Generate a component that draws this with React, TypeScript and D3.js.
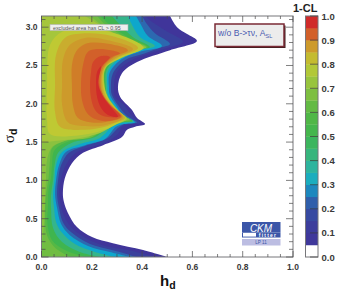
import React from 'react';
import * as d3 from 'd3';

type Pt = [number, number];

const xMajor = [0, 0.2, 0.4, 0.6, 0.8, 1.0];
const yMajor = [0, 0.5, 1.0, 1.5, 2.0, 2.5, 3.0];
const barMajor = [0, 0.1, 0.2, 0.3, 0.4, 0.5, 0.6, 0.7, 0.8, 0.9, 1.0];
const barEdges = [0, 0.05, 0.1, 0.15, 0.2, 0.25, 0.3, 0.35, 0.4, 0.45, 0.5, 0.55, 0.6, 0.65, 0.7, 0.75, 0.8, 0.85, 0.9, 0.95];

const colorStops = [0.05, 0.15, 0.25, 0.3, 0.35, 0.4, 0.5, 0.6, 0.7, 0.75, 0.8, 0.85, 0.875, 0.9, 0.925, 0.95, 0.975];
const colorValues = ['#40359a', '#3a409c', '#2c69b0', '#0ea7cc', '#27b2b0', '#34b58c', '#3fb54f', '#55b845', '#8bc13f', '#a5c63c', '#bfc933', '#c9ad2e', '#cd9a2b', '#d07d28', '#d2602a', '#d2452a', '#d02b2a'];

// right hand edge of the allowed region, bottom to top, one per 1-CL level
const edge05: Pt[] = [[.499, 0], [.404, .09], [.284, .18], [.201, .26], [.141, .39], [.105, .575], [.089, .72], [.085, .835], [.093, 1.03], [.121, 1.225], [.165, 1.36], [.245, 1.46], [.32, 1.565], [.34, 1.66], [.372, 1.7], [.412, 1.735], [.38, 1.815], [.36, 1.92], [.313, 2.09], [.304, 2.22], [.32, 2.4], [.38, 2.545], [.511, 2.7], [.618, 2.82], [.579, 2.91], [.539, 3.0], [.511, 3.146]];
const edge15: Pt[] = [[.451, 0], [.344, .09], [.252, .145], [.173, .25], [.117, .39], [.085, .575], [.074, .72], [.07, .835], [.078, 1.03], [.101, 1.225], [.141, 1.37], [.252, 1.49], [.304, 1.605], [.32, 1.7], [.352, 1.735], [.392, 1.75], [.356, 1.855], [.328, 1.985], [.292, 2.09], [.288, 2.22], [.3, 2.415], [.352, 2.56], [.431, 2.66], [.511, 2.74], [.563, 2.81], [.491, 2.96], [.439, 3.07], [.412, 3.146]];
const edge25: Pt[] = [[.376, 0], [.292, .08], [.193, .17], [.121, .315], [.085, .455], [.07, .64], [.062, .81], [.066, 1.005], [.078, 1.2], [.109, 1.36], [.173, 1.45], [.264, 1.555], [.304, 1.685], [.332, 1.74], [.38, 1.755], [.336, 1.855], [.304, 1.985], [.28, 2.115], [.276, 2.22], [.284, 2.4], [.332, 2.57], [.412, 2.66], [.471, 2.73], [.511, 2.78], [.451, 2.92], [.419, 3.04], [.4, 3.146]];
const edge30: Pt[] = [[.352, 0], [.272, .065], [.185, .145], [.113, .285], [.078, .43], [.062, .64], [.054, .81], [.058, 1.005], [.07, 1.2], [.097, 1.37], [.173, 1.46], [.252, 1.54], [.296, 1.7], [.328, 1.735], [.372, 1.76], [.324, 1.855], [.296, 1.985], [.272, 2.115], [.268, 2.22], [.272, 2.415], [.32, 2.585], [.392, 2.68], [.479, 2.755], [.423, 2.885], [.396, 3.03], [.376, 3.146]];
const edge40: Pt[] = [[.292, 0], [.213, .065], [.133, .17], [.082, .315], [.058, .455], [.05, .64], [.046, .81], [.052, 1.005], [.058, 1.2], [.082, 1.37], [.153, 1.475], [.233, 1.555], [.284, 1.71], [.32, 1.75], [.366, 1.77], [.313, 1.87], [.284, 2.0], [.264, 2.115], [.262, 2.22], [.264, 2.415], [.313, 2.6], [.372, 2.69], [.451, 2.755], [.392, 2.87], [.36, 3.03], [.344, 3.146]];
const edge50: Pt[] = [[.233, 0], [.153, .065], [.082, .195], [.046, .38], [.038, .64], [.038, .81], [.046, 1.005], [.052, 1.2], [.066, 1.36], [.121, 1.49], [.213, 1.565], [.272, 1.71], [.313, 1.755], [.362, 1.775], [.304, 1.88], [.276, 2.01], [.258, 2.115], [.256, 2.22], [.258, 2.43], [.304, 2.61], [.352, 2.7], [.431, 2.74], [.364, 2.87], [.313, 3.03], [.28, 3.146]];
const edge60: Pt[] = [[.173, 0], [.093, .09], [.042, .22], [.024, .42], [.026, .68], [.028, .875], [.038, 1.03], [.042, 1.2], [.052, 1.395], [.113, 1.515], [.213, 1.58], [.264, 1.72], [.304, 1.76], [.356, 1.78], [.296, 1.89], [.27, 2.02], [.254, 2.13], [.252, 2.22], [.254, 2.44], [.296, 2.61], [.344, 2.715], [.423, 2.74], [.344, 2.87], [.272, 3.03], [.233, 3.146]];
const edge65: Pt[] = [[.113, 0], [.054, .12], [.022, .285], [.014, .55], [.018, .81], [.028, 1.03], [.034, 1.265], [.042, 1.42], [.105, 1.53], [.201, 1.565], [.256, 1.735], [.296, 1.775], [.352, 1.79], [.288, 1.92], [.264, 2.05], [.252, 2.155], [.25, 2.245], [.252, 2.455], [.292, 2.61], [.336, 2.715], [.419, 2.74], [.332, 2.87], [.252, 3.04], [.221, 3.146]];
const edge70: Pt[] = [[0, .155], [.01, .42], [.014, .745], [.018, 1.03], [.022, 1.265], [.042, 1.435], [.093, 1.515], [.185, 1.56], [.233, 1.69], [.28, 1.76], [.348, 1.795], [.28, 1.92], [.256, 2.05], [.249, 2.245], [.25, 2.455], [.284, 2.6], [.328, 2.7], [.416, 2.735], [.332, 2.845], [.252, 3.0], [.193, 3.146]];
const edge75: Pt[] = [[0, 1.49], [.054, 1.515], [.153, 1.555], [.233, 1.62], [.288, 1.72], [.34, 1.8], [.304, 1.92], [.264, 2.09], [.249, 2.27], [.256, 2.47], [.32, 2.6], [.408, 2.735], [.332, 2.83], [.252, 2.99], [.173, 3.146]];

// closed rings round the best fit region
const ring80: Pt[] = [[.404, 2.735], [.292, 2.92], [.173, 2.99], [.082, 2.94], [.034, 2.77], [.022, 2.245], [.022, 1.79], [.034, 1.605], [.153, 1.59], [.252, 1.66], [.3, 1.735], [.336, 1.81], [.3, 1.92], [.262, 2.09], [.247, 2.27], [.254, 2.47], [.316, 2.6]];
const ring85: Pt[] = [[.384, 2.73], [.28, 2.885], [.173, 2.92], [.093, 2.86], [.058, 2.64], [.054, 2.245], [.054, 1.89], [.074, 1.7], [.173, 1.66], [.252, 1.7], [.292, 1.75], [.332, 1.815], [.292, 1.945], [.256, 2.1], [.243, 2.27], [.252, 2.47], [.304, 2.6]];
const ring875: Pt[] = [[.364, 2.715], [.264, 2.83], [.173, 2.86], [.113, 2.77], [.085, 2.57], [.082, 2.245], [.082, 1.985], [.105, 1.76], [.173, 1.71], [.252, 1.72], [.324, 1.82], [.284, 1.96], [.25, 2.1], [.239, 2.27], [.249, 2.47], [.296, 2.6]];
const ring90: Pt[] = [[.344, 2.7], [.252, 2.79], [.173, 2.78], [.137, 2.68], [.121, 2.505], [.121, 2.245], [.125, 1.985], [.145, 1.815], [.193, 1.76], [.252, 1.76], [.32, 1.83], [.28, 1.97], [.245, 2.115], [.235, 2.27], [.245, 2.47], [.288, 2.61]];
const ring925: Pt[] = [[.312, 2.66], [.233, 2.715], [.185, 2.68], [.165, 2.505], [.157, 2.245], [.161, 2.05], [.181, 1.88], [.213, 1.8], [.264, 1.775], [.316, 1.835], [.276, 1.97], [.245, 2.115], [.23, 2.27], [.241, 2.48], [.28, 2.61]];
const ring95: Pt[] = [[.272, 2.61], [.233, 2.62], [.205, 2.545], [.197, 2.415], [.193, 2.245], [.197, 2.075], [.213, 1.92], [.245, 1.84], [.313, 1.84], [.272, 1.985], [.241, 2.115], [.227, 2.27], [.237, 2.47]];
const ring975: Pt[] = [[.237, 2.49], [.221, 2.415], [.217, 2.245], [.221, 2.09], [.237, 1.945], [.264, 1.855], [.304, 1.83], [.272, 1.97], [.241, 2.115], [.225, 2.27]];

const edges: [number, Pt[]][] = [[.05, edge05], [.15, edge15], [.25, edge25], [.3, edge30], [.4, edge40], [.5, edge50], [.6, edge60], [.65, edge65], [.7, edge70], [.75, edge75]];
const rings: [number, Pt[]][] = [[.8, ring80], [.85, ring85], [.875, ring875], [.9, ring90], [.925, ring925], [.95, ring95], [.975, ring975]];

const FONT = '"Liberation Sans", Arial, sans-serif';
const yTop = 3.146;

const x = d3.scaleLinear().domain([0, 1]).range([41.5, 293]);
const y = d3.scaleLinear().domain([0, yTop]).range([257, 16]);
const barY = d3.scaleLinear().domain([0, 1]).range([257, 16]);
const color = d3.scaleLinear<string>().domain(colorStops).range(colorValues).clamp(true);

const line = d3.line<Pt>().x(d => x(d[0])).y(d => y(d[1])).curve(d3.curveCatmullRom.alpha(0.5));
const ring = d3.line<Pt>().x(d => x(d[0])).y(d => y(d[1])).curve(d3.curveCatmullRomClosed.alpha(0.5));

const edgePath = (pts: Pt[]) => `${line(pts)}L${x(0)},${y(yTop)}L${x(0)},${y(pts[0][1])}Z`;

const xMinor = d3.range(0, 1.001, 0.05);
const yMinor = d3.range(0, 3.11, 0.1);

export default function App() {
  const axisColor = '#77777a';
  const tickColor = '#4a4a4a';
  return (
    <svg width={337} height={292} style={{ position: 'absolute', left: 0, top: 0, background: '#fff' }} fontFamily={FONT}>
      <defs>
        <clipPath id="plot"><rect x={41.5} y={16} width={251.5} height={241} /></clipPath>
      </defs>
      <g clipPath="url(#plot)">
        {edges.map(([lv, pts]) => <path key={lv} d={edgePath(pts)} fill={color(lv)} />)}
        {rings.map(([lv, pts]) => <path key={lv} d={ring(pts) as string} fill={color(lv)} />)}
      </g>

      {/* frame and ticks */}
      <rect x={41.5} y={16} width={251.5} height={241} fill="none" stroke={axisColor} strokeWidth={1} />
      {xMinor.map(t => {
        const major = xMajor.some(m => Math.abs(m - t) < 1e-6);
        const l = major ? 6 : 3;
        return (
          <g key={t} stroke={tickColor} strokeWidth={0.7}>
            <line x1={x(t)} x2={x(t)} y1={257} y2={257 - l} />
            <line x1={x(t)} x2={x(t)} y1={16} y2={16 + l} />
          </g>
        );
      })}
      {yMinor.map(t => {
        const major = yMajor.some(m => Math.abs(m - t) < 1e-6);
        const l = major ? 7 : 4;
        return (
          <g key={t} stroke={tickColor} strokeWidth={0.7}>
            <line x1={41.5} x2={41.5 + l} y1={y(t)} y2={y(t)} />
            <line x1={293} x2={293 - l} y1={y(t)} y2={y(t)} />
          </g>
        );
      })}
      {xMajor.map(t => (
        <text key={t} x={x(t)} y={270} textAnchor="middle" fontSize={8.5} fontWeight="bold" fill="#3a3a3a">{t.toFixed(1)}</text>
      ))}
      {yMajor.map(t => (
        <text key={t} x={37.5} y={y(t) + 3} textAnchor="end" fontSize={8.5} fontWeight="bold" fill="#3a3a3a">{t.toFixed(1)}</text>
      ))}

      {/* axis titles */}
      <text x={160} y={286} fontSize={15} fontWeight="bold" fill="#111">h<tspan fontSize={10.5} dy={3}>d</tspan></text>
      <g transform="translate(14,143) rotate(-90)">
        <text fontSize={15} fill="#111" fontFamily='"Liberation Serif", serif'>σ<tspan fontSize={10.5} dy={2.5} fontFamily={FONT} fontWeight="bold">d</tspan></text>
      </g>

      {/* labels inside the plot */}
      <rect x={50} y={24.5} width={78} height={6} fill="#eeeeee" stroke="#b5b5b5" strokeWidth={0.6} />
      <text x={53} y={29.5} fontSize={5.3} fill="#555">excluded area has CL &gt; 0.95</text>

      <rect x={216.5} y={25.5} width={69} height={22.5} fill="#3a1c1c" />
      <rect x={215} y={24} width={69} height={22.5} fill="#ececec" stroke="#7a2a35" strokeWidth={1.5} />
      <text x={218} y={35.5} fontSize={8.6} fill="#4a5bb0">w/o B-&gt;τν, A<tspan fontSize={5.5} dy={2.5}>SL</tspan></text>

      {/* logo */}
      <rect x={242} y={222} width={38.5} height={10.5} fill="#3b56a8" />
      <text x={261} y={231.5} textAnchor="middle" fontSize={10} fontStyle="italic" fill="#fff">CKM</text>
      <rect x={242} y={232.5} width={38.5} height={5} fill="#3b56a8" />
      <rect x={243} y={233} width={13} height={3.6} fill="#fff" />
      <text x={268} y={237} textAnchor="middle" fontSize={5} fontWeight="bold" letterSpacing={1.2} fill="#fff">fitter</text>
      <rect x={242} y={239} width={38.5} height={6.5} fill="#bcbde2" />
      <text x={261} y={244.3} textAnchor="middle" fontSize={4.6} fill="#3b56a8">LP 11</text>

      {/* colour bar */}
      {barEdges.map((e, i) => (
        <rect key={e} x={305.5} width={12.5}
          y={barY(i + 1 < barEdges.length ? barEdges[i + 1] : 1)}
          height={barY(e) - barY(i + 1 < barEdges.length ? barEdges[i + 1] : 1) + 0.3}
          fill={i === 0 ? '#fff' : color(e + 0.025)} />
      ))}
      <rect x={305.5} y={16} width={12.5} height={241} fill="none" stroke={axisColor} strokeWidth={1} />
      {barMajor.map(t => (
        <g key={t}>
          <line x1={310} x2={318} y1={barY(t)} y2={barY(t)} stroke="#3a3a3a" strokeWidth={0.7} />
          <text x={321.5} y={barY(t) + 3.5} fontSize={9.5} fontWeight="bold" fill="#3a3a3a">{t.toFixed(1)}</text>
        </g>
      ))}
      <text x={293} y={12} fontSize={11} fontWeight="bold" fill="#222">1-CL</text>
    </svg>
  );
}
